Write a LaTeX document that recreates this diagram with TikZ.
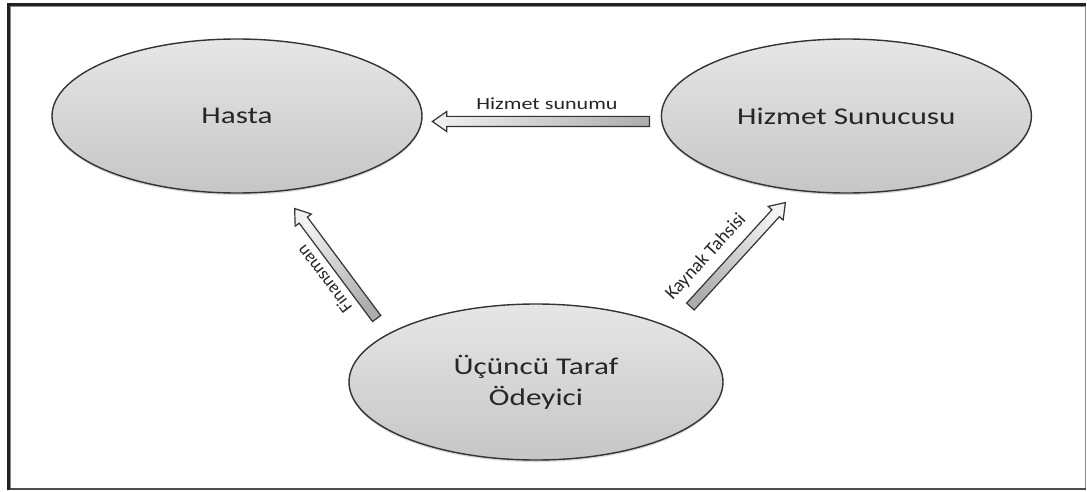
\documentclass[tikz,border=0pt]{standalone}
\usepackage{fontspec}
\setmainfont{Carlito}
\newfontfamily\widefont{Carlito}[FakeStretch=1.3]
\usepackage{tikz}
\usetikzlibrary{positioning,shapes.geometric,shapes.arrows,shadows,calc}

\definecolor{ellTop}{HTML}{E6E6E6}
\definecolor{ellBottom}{HTML}{C6C6C6}
\definecolor{arrLight}{HTML}{F2F2F2}
\definecolor{arrDark}{HTML}{ADADAD}
\definecolor{lineDark}{HTML}{333333}
\definecolor{txtDark}{HTML}{262626}
\definecolor{frameDark}{HTML}{222222}
\definecolor{frameGray}{HTML}{8A8A8A}

% block arrow from a tail point to a tip point, light at the tip
\newcommand{\blockarrow}[2]{%
  \path let \p1=($(#2)-(#1)$), \n1={atan2(\y1,\x1)}, \n2={veclen(\x1,\y1)} in
    node[blockarrow, rotate=\n1, minimum height=\n2, shading angle=\n1-90] at (#1) {};}

\begin{document}
\begin{tikzpicture}[x=1pt, y=1pt,
    actor/.style={ellipse, draw=lineDark, line width=1.4pt, top color=ellTop, bottom color=ellBottom,
      minimum width=370pt, minimum height=154pt, inner sep=0pt, text=txtDark, align=center,
      font=\widefont\fontsize{24}{31}\selectfont,
      drop shadow={shadow xshift=0pt, shadow yshift=-2pt, opacity=0.3}},
    blockarrow/.style={single arrow, anchor=tail, draw=lineDark, line width=1.2pt,
      top color=arrLight, bottom color=arrDark, inner sep=4.5pt, minimum width=0pt,
      single arrow head extend=5pt, single arrow tip angle=70, single arrow head indent=0pt},
    flowlabel/.style={text=txtDark, inner sep=0pt, font=\fontsize{18}{20}\selectfont},
    node distance=238pt]

\useasboundingbox (0,0) rectangle (1087,491);

% frame
\draw[line width=1pt, draw=frameGray] (10.3,3) rectangle (1085.3,484.2);
\draw[line width=2pt, draw=frameDark!80] (7.7,2) -- (1086.3,2);
\draw[line width=3pt, draw=frameDark] (8.7,1) -- (8.7,486.2) -- (1085.5,486.2);

\node[actor] (hasta) at (237,375) {Hasta};
\node[actor, right=of hasta] (sunucu) {Hizmet Sunucusu};
\node[actor, minimum width=374pt, minimum height=156pt] (odeyici) at (536,109) {Üçüncü Taraf\\Ödeyici};

\coordinate (sunum-tail) at (650,369.5);
\coordinate (sunum-tip) at (433,369.5);
\coordinate (fin-tail) at (377,172);
\coordinate (fin-tip) at (295,282);
\coordinate (kay-tail) at (690,184);
\coordinate (kay-tip) at (785,288);

\blockarrow{sunum-tail}{sunum-tip}
\blockarrow{fin-tail}{fin-tip}
\blockarrow{kay-tail}{kay-tip}

\node[flowlabel, font=\widefont\fontsize{17}{20}\selectfont] (sunum-label) at (547,387) {Hizmet sunumu};
\node[flowlabel, rotate=127] (fin-label) at (324,212) {Finansman};
\node[flowlabel, rotate=47.6, font=\fontsize{19}{21}\selectfont] (kay-label) at (706,234) {Kaynak Tahsisi};

\end{tikzpicture}
\end{document}
